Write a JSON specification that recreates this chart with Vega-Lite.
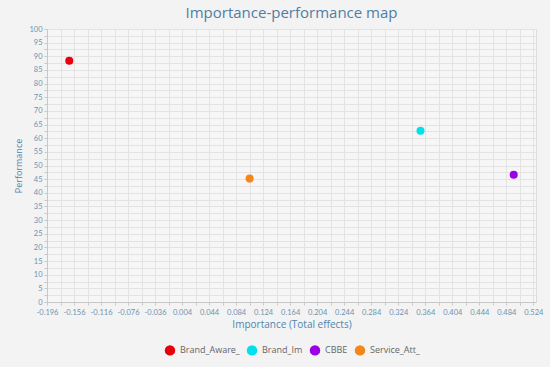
{
  "$schema": "https://vega.github.io/schema/vega-lite/v6.json",
  "width": 489,
  "height": 273,
  "autosize": "none",
  "padding": {"left": 47, "top": 29, "right": 14, "bottom": 65},
  "background": "#f3f3f3",
  "title": {
    "text": "Importance-performance map",
    "fontSize": 15,
    "font": "Open Sans",
    "fontWeight": "normal",
    "color": "#4f7ea3",
    "anchor": "middle",
    "offset": 4
  },
  "data": {
    "values": [
      {"construct": "Brand_Aware_", "importance": -0.163, "performance": 88.4},
      {"construct": "Brand_Im", "importance": 0.357, "performance": 62.7},
      {"construct": "CBBE", "importance": 0.495, "performance": 46.6},
      {"construct": "Service_Att_", "importance": 0.104, "performance": 45.2}
    ]
  },
  "mark": {"type": "point", "filled": true, "opacity": 1, "size": 65, "shape": "circle"},
  "encoding": {
    "x": {
      "field": "importance",
      "type": "quantitative",
      "title": "Importance (Total effects)",
      "scale": {"domain": [-0.196, 0.528], "nice": false, "zero": false},
      "axis": {
        "values": [-0.196, -0.176, -0.156, -0.136, -0.116, -0.096, -0.076, -0.056, -0.036, -0.016, 0.004, 0.024, 0.044, 0.064, 0.084, 0.104, 0.124, 0.144, 0.164, 0.184, 0.204, 0.224, 0.244, 0.264, 0.284, 0.304, 0.324, 0.344, 0.364, 0.384, 0.404, 0.424, 0.444, 0.464, 0.484, 0.504, 0.524],
        "labelExpr": "round((datum.value + 0.196) / 0.02) % 2 == 0 ? (datum.value < 0 ? '-' : '') + format(abs(datum.value), '.3f') : ''",
        "labelOverlap": false,
        "labelFlush": false,
        "labelFontSize": 7.5,
        "labelColor": "#6f92b0",
        "labelFont": "Lato",
        "titleFont": "Open Sans",
        "titleFontSize": 10,
        "titleFontWeight": "normal",
        "titleColor": "#4f84ad",
        "titlePadding": 4,
        "domainColor": "#c8c8c8",
        "tickColor": "#c8c8c8",
        "tickSize": 3,
        "gridColor": "#e3e3e3",
        "labelPadding": 3
      }
    },
    "y": {
      "field": "performance",
      "type": "quantitative",
      "title": "Performance",
      "scale": {"domain": [0, 100], "nice": false},
      "axis": {
        "values": [0, 2.5, 5, 7.5, 10, 12.5, 15, 17.5, 20, 22.5, 25, 27.5, 30, 32.5, 35, 37.5, 40, 42.5, 45, 47.5, 50, 52.5, 55, 57.5, 60, 62.5, 65, 67.5, 70, 72.5, 75, 77.5, 80, 82.5, 85, 87.5, 90, 92.5, 95, 97.5, 100],
        "labelExpr": "datum.value % 5 == 0 ? format(datum.value, 'd') : ''",
        "labelOverlap": false,
        "labelFlush": false,
        "labelFontSize": 7.5,
        "labelColor": "#6f92b0",
        "labelFont": "Lato",
        "titleFont": "Open Sans",
        "titleFontSize": 9,
        "titleFontWeight": "normal",
        "titleColor": "#4f84ad",
        "titlePadding": 5,
        "domainColor": "#c8c8c8",
        "tickColor": "#c8c8c8",
        "tickSize": 3,
        "gridColor": "#e3e3e3",
        "labelPadding": 2
      }
    },
    "color": {
      "field": "construct",
      "type": "nominal",
      "title": null,
      "scale": {
        "domain": ["Brand_Aware_", "Brand_Im", "CBBE", "Service_Att_"],
        "range": ["#e8000b", "#00e1ee", "#9b00e6", "#f4861c"]
      },
      "legend": {
        "orient": "bottom",
        "direction": "horizontal",
        "symbolType": "circle",
        "symbolSize": 110,
        "labelFontSize": 9,
        "labelFont": "Open Sans",
        "labelColor": "#666666",
        "columnPadding": 6,
        "offset": 14
      }
    }
  },
  "config": {
    "view": {"stroke": "#dcdcdc", "fill": "#f6f6f6"},
    "legend": {"layout": {"bottom": {"anchor": "middle"}}}
  }
}
